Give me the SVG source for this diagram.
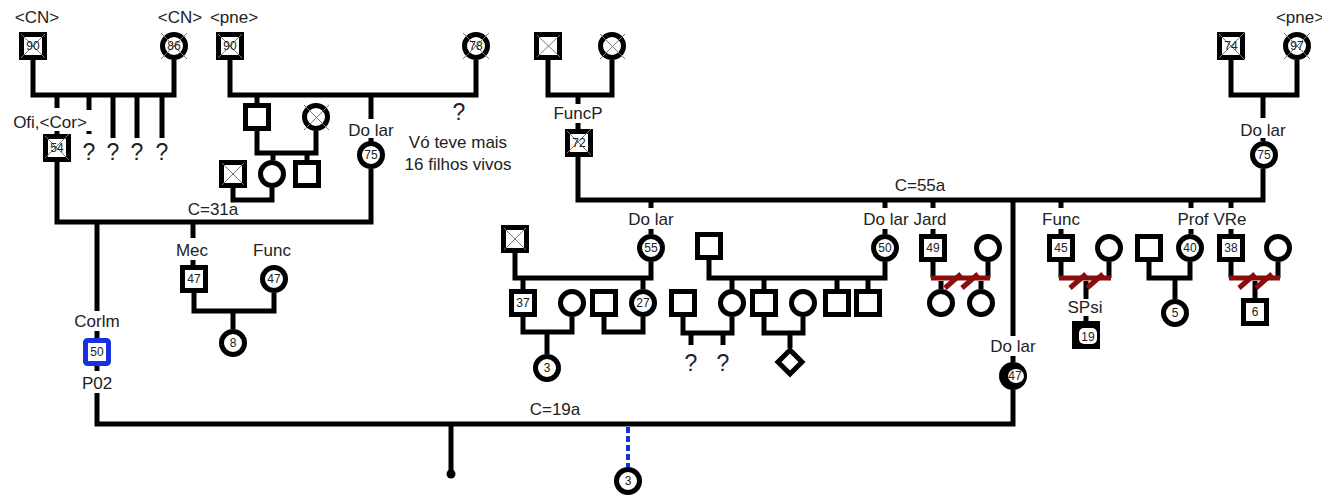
<svg xmlns="http://www.w3.org/2000/svg" width="1322" height="497" viewBox="0 0 1322 497">
<defs><style>
.ln{fill:none;stroke:#000;stroke-width:5}
.rd{fill:none;stroke:#8b0d0d;stroke-width:5}
.nd{fill:#fff;stroke:#000;stroke-width:5}
.bk{fill:#000;stroke:#000;stroke-width:5}
.bl{fill:#fff;stroke:#1a2fe0;stroke-width:5}
.x{stroke:#777;stroke-width:1;fill:none}
.lb{font-family:"Liberation Sans",Arial,sans-serif;font-size:17px;fill:#222;text-anchor:middle}
.nm{font-family:"Liberation Sans",Arial,sans-serif;font-size:12px;fill:#222;text-anchor:middle}
.q{font-family:"Liberation Sans",Arial,sans-serif;font-size:23px;fill:#222;text-anchor:middle}
</style></defs>
<rect width="1322" height="497" fill="#fff"/>
<g id="connectors">
<path class="ln" d="M33,60V95H174V60"/>
<path class="ln" d="M230,60V95H476V60"/>
<path class="ln" d="M548,60V95H612V60"/>
<path class="ln" d="M1231,60V95H1297V60"/>
<path class="ln" d="M57,95V108M57,131V135"/>
<path class="ln" d="M89,95V110"/>
<path class="ln" d="M89,131V137" stroke-dasharray="3,3"/>
<path class="ln" d="M113,95V138M137,95V138M162,95V138"/>
<path class="ln" d="M257,95V103"/>
<path class="ln" d="M371,95V119M371,138V142"/>
<path class="ln" d="M257,131V153H316V131"/>
<path class="ln" d="M273,153V160M307,153V160"/>
<path class="ln" d="M233,188V200H272V188"/>
<path class="ln" d="M57,162V222H371V169"/>
<path class="ln" d="M97,222V311M97,331V338"/>
<path class="ln" d="M97,366V371M97,393V424H1013V390"/>
<path class="ln" d="M193,222V238M193,260V265"/>
<path class="ln" d="M194,293V311H274V293"/>
<path class="ln" d="M233,311V329"/>
<path class="ln" d="M578,95V104M578,123V129"/>
<path class="ln" d="M578,157V200H1263V169"/>
<path class="ln" d="M1263,95V118M1263,138V141"/>
<path class="ln" d="M651,200V208M651,229V234"/>
<path class="ln" d="M885,200V208M885,229V234"/>
<path class="ln" d="M933,200V208M933,229V234"/>
<path class="ln" d="M1013,200V336M1013,356V362"/>
<path class="ln" d="M1061,200V208M1061,229V234"/>
<path class="ln" d="M1191,200V208M1191,229V234"/>
<path class="ln" d="M1231,200V208M1231,229V234"/>
<path class="ln" d="M515,253V278H651V262"/>
<path class="ln" d="M523,278V289M643,278V289"/>
<path class="ln" d="M523,317V332H572V317"/>
<path class="ln" d="M547,332V354"/>
<path class="ln" d="M604,317V332H643V317"/>
<path class="ln" d="M709,260V278H885V262"/>
<path class="ln" d="M732,278V289M764,278V289M837,278V289M868,278V289"/>
<path class="ln" d="M683,317V333H732V317"/>
<path class="ln" d="M691,333V345M723,333V345"/>
<path class="ln" d="M764,317V333H803V317"/>
<path class="ln" d="M790,333V348"/>
<path class="ln" d="M933,260V278M988,262V278"/>
<path class="ln" d="M941,281V289M981,281V289"/>
<path class="rd" d="M931,278H990"/>
<path class="rd" d="M945,288L961,274M962,288L978,274"/>
<path class="ln" d="M1061,262V278M1109,262V278"/>
<path class="ln" d="M1086,281V299M1086,316V321"/>
<path class="rd" d="M1059,278H1111"/>
<path class="rd" d="M1070,288L1086,274M1087,288L1103,274"/>
<path class="ln" d="M1149,262V278H1190V262"/>
<path class="ln" d="M1175,278V299"/>
<path class="ln" d="M1231,262V278M1278,262V278"/>
<path class="ln" d="M1255,281V298"/>
<path class="rd" d="M1229,278H1280"/>
<path class="rd" d="M1239,288L1255,274M1256,288L1272,274"/>
<path class="ln" d="M451,424V472"/>
<circle cx="451" cy="474" r="4.5" fill="#000"/>
<path d="M628,427V467" stroke="#1a2fe0" stroke-width="4" stroke-dasharray="6,3" fill="none"/>
</g>
<g id="labels">
<text class="lb" x="37" y="23">&lt;CN&gt;</text>
<text class="lb" x="180" y="23">&lt;CN&gt;</text>
<text class="lb" x="234" y="23">&lt;pne&gt;</text>
<text class="lb" x="1300" y="23">&lt;pne&gt;</text>
<text class="lb" x="50" y="128">Ofi,&lt;Cor&gt;</text>
<text class="q" x="89" y="160">?</text>
<text class="q" x="113" y="160">?</text>
<text class="q" x="137" y="160">?</text>
<text class="q" x="162" y="160">?</text>
<text class="lb" x="371" y="136">Do lar</text>
<text class="q" x="459" y="120">?</text>
<text class="lb" x="458" y="148">Vó teve mais</text>
<text class="lb" x="458" y="170">16 filhos vivos</text>
<text class="lb" x="578" y="119">FuncP</text>
<text class="lb" x="1263" y="136">Do lar</text>
<text class="lb" x="213" y="215">C=31a</text>
<text class="lb" x="920" y="191">C=55a</text>
<text class="lb" x="555" y="415">C=19a</text>
<text class="lb" x="192" y="256">Mec</text>
<text class="lb" x="272" y="256">Func</text>
<text class="lb" x="97" y="327">Corlm</text>
<text class="lb" x="97" y="389">P02</text>
<text class="lb" x="651" y="225">Do lar</text>
<text class="lb" x="886" y="225">Do lar</text>
<text class="lb" x="930" y="225">Jard</text>
<text class="lb" x="1061" y="225">Func</text>
<text class="lb" x="1193" y="225">Prof</text>
<text class="lb" x="1230" y="225">VRe</text>
<text class="lb" x="1085" y="313">SPsi</text>
<text class="lb" x="1013" y="352">Do lar</text>
<text class="q" x="691" y="371">?</text>
<text class="q" x="723" y="371">?</text>
</g>
<g id="n_cn1"><rect class="nd" x="21.5" y="34.5" width="23" height="23"/><path class="x" d="M21,34L45,58M45,34L21,58"/><text class="nm" x="33" y="50">90</text></g>
<g id="n_cn2"><circle class="nd" cx="174" cy="46" r="11.5"/><path class="x" d="M161,33L187,59M187,33L161,59"/><text class="nm" x="174" y="50">86</text></g>
<g id="n_pne1"><rect class="nd" x="218.5" y="34.5" width="23" height="23"/><path class="x" d="M218,34L242,58M242,34L218,58"/><text class="nm" x="230" y="50">90</text></g>
<g id="n_78"><circle class="nd" cx="476" cy="46" r="11.5"/><path class="x" d="M463,33L489,59M489,33L463,59"/><text class="nm" x="476" y="50">78</text></g>
<g id="n_pgf"><rect class="nd" x="536.5" y="34.5" width="23" height="23"/><path class="x" d="M537,35L560,57M560,35L537,57"/></g>
<g id="n_pgm"><circle class="nd" cx="612" cy="46" r="11.5"/><path class="x" d="M600,34L625,59M625,34L600,59"/></g>
<g id="n_74"><rect class="nd" x="1219.5" y="34.5" width="23" height="23"/><path class="x" d="M1219,34L1245,60M1245,32L1219,58"/><text class="nm" x="1231" y="50">74</text></g>
<g id="n_97"><circle class="nd" cx="1297" cy="46" r="11.5"/><path class="x" d="M1284,33L1310,59M1310,33L1284,59"/><text class="nm" x="1297" y="50">97</text></g>
<g id="n_54"><rect class="nd" x="45.5" y="136.5" width="23" height="23"/><path class="x" d="M45,136L69,160M69,134L45,158"/><text class="nm" x="57" y="152">54</text></g>
<g id="n_75a"><circle class="nd" cx="371" cy="155" r="11.5"/><text class="nm" x="371" y="159">75</text></g>
<g id="n_unc"><rect class="nd" x="245.5" y="105.5" width="23" height="23"/></g>
<g id="n_uncw"><circle class="nd" cx="316" cy="117" r="11.5"/><path class="x" d="M304,105L329,130M329,105L304,130"/></g>
<g id="n_cx1"><rect class="nd" x="221.5" y="162.5" width="23" height="23"/><path class="x" d="M222,163L244,185M244,163L222,185"/></g>
<g id="n_cc1"><circle class="nd" cx="272" cy="174" r="11.5"/></g>
<g id="n_cs1"><rect class="nd" x="295.5" y="162.5" width="23" height="23"/></g>
<g id="n_72"><rect class="nd" x="567.5" y="131.5" width="23" height="23"/><path class="x" d="M567,131L591,155M591,129L567,153"/><text class="nm" x="579" y="147">72</text></g>
<g id="n_75b"><circle class="nd" cx="1264" cy="155" r="11.5"/><text class="nm" x="1264" y="159">75</text></g>
<g id="n_mec"><rect class="nd" x="182.5" y="267.5" width="23" height="23"/><text class="nm" x="194" y="283">47</text></g>
<g id="n_func47"><circle class="nd" cx="274" cy="279" r="11.5"/><text class="nm" x="274" y="283">47</text></g>
<g id="n_8"><circle class="nd" cx="233" cy="343" r="11.5"/><text class="nm" x="233" y="347">8</text></g>
<g id="n_p02"><rect class="bl" x="85.5" y="340.5" width="23" height="23" rx="2"/><text class="nm" x="97" y="356">50</text></g>
<g id="n_47b"><circle class="bk" cx="1013" cy="376" r="11.5"/><ellipse cx="1016" cy="376" rx="8" ry="7" fill="#fff"/><text class="nm" x="1015" y="380">47</text></g>
<g id="n_child3"><circle class="nd" cx="628" cy="481" r="11.5"/><text class="nm" x="628" y="485">3</text></g>
<g id="n_sx2"><rect class="nd" x="503.5" y="227.5" width="23" height="23"/><path class="x" d="M504,228L526,250M526,228L504,250"/></g>
<g id="n_55"><circle class="nd" cx="651" cy="248" r="11.5"/><text class="nm" x="651" y="252">55</text></g>
<g id="n_37"><rect class="nd" x="511.5" y="291.5" width="23" height="23"/><text class="nm" x="523" y="307">37</text></g>
<g id="n_c37w"><circle class="nd" cx="572" cy="303" r="11.5"/></g>
<g id="n_s604"><rect class="nd" x="592.5" y="291.5" width="23" height="23"/></g>
<g id="n_27"><circle class="nd" cx="643" cy="303" r="11.5"/><text class="nm" x="643" y="307">27</text></g>
<g id="n_3a"><circle class="nd" cx="547" cy="368" r="11.5"/><text class="nm" x="547" y="372">3</text></g>
<g id="n_s709"><rect class="nd" x="697.5" y="234.5" width="23" height="23"/></g>
<g id="n_50"><circle class="nd" cx="885" cy="248" r="11.5"/><text class="nm" x="885" y="252">50</text></g>
<g id="n_s683"><rect class="nd" x="671.5" y="291.5" width="23" height="23"/></g>
<g id="n_c732"><circle class="nd" cx="732" cy="303" r="11.5"/></g>
<g id="n_s765"><rect class="nd" x="752.5" y="291.5" width="23" height="23"/></g>
<g id="n_c803"><circle class="nd" cx="803" cy="303" r="11.5"/></g>
<g id="n_s837"><rect class="nd" x="825.5" y="291.5" width="23" height="23"/></g>
<g id="n_s868"><rect class="nd" x="856.5" y="291.5" width="23" height="23"/></g>
<g id="n_dia"><path class="nd" d="M790,350L802,362L790,374L778,362Z"/></g>
<g id="n_49"><rect class="nd" x="921.5" y="236.5" width="23" height="23"/><text class="nm" x="933" y="252">49</text></g>
<g id="n_c988"><circle class="nd" cx="988" cy="248" r="11.5"/></g>
<g id="n_c941"><circle class="nd" cx="941" cy="303" r="11.5"/></g>
<g id="n_c981"><circle class="nd" cx="981" cy="303" r="11.5"/></g>
<g id="n_45"><rect class="nd" x="1049.5" y="236.5" width="23" height="23"/><text class="nm" x="1061" y="252">45</text></g>
<g id="n_c1109"><circle class="nd" cx="1109" cy="248" r="11.5"/></g>
<g id="n_19"><rect class="bk" x="1074.5" y="323.5" width="23" height="23"/><rect x="1079" y="328" width="18" height="16" rx="5" fill="#fff"/><text class="nm" x="1088" y="341">19</text></g>
<g id="n_s1149"><rect class="nd" x="1137.5" y="236.5" width="23" height="23"/></g>
<g id="n_40"><circle class="nd" cx="1190" cy="248" r="11.5"/><text class="nm" x="1190" y="252">40</text></g>
<g id="n_5"><circle class="nd" cx="1175" cy="313" r="11.5"/><text class="nm" x="1175" y="317">5</text></g>
<g id="n_38"><rect class="nd" x="1219.5" y="236.5" width="23" height="23"/><text class="nm" x="1231" y="252">38</text></g>
<g id="n_c1278"><circle class="nd" cx="1278" cy="248" r="11.5"/></g>
<g id="n_6"><rect class="nd" x="1243.5" y="300.5" width="23" height="23"/><text class="nm" x="1255" y="316">6</text></g>
</svg>
